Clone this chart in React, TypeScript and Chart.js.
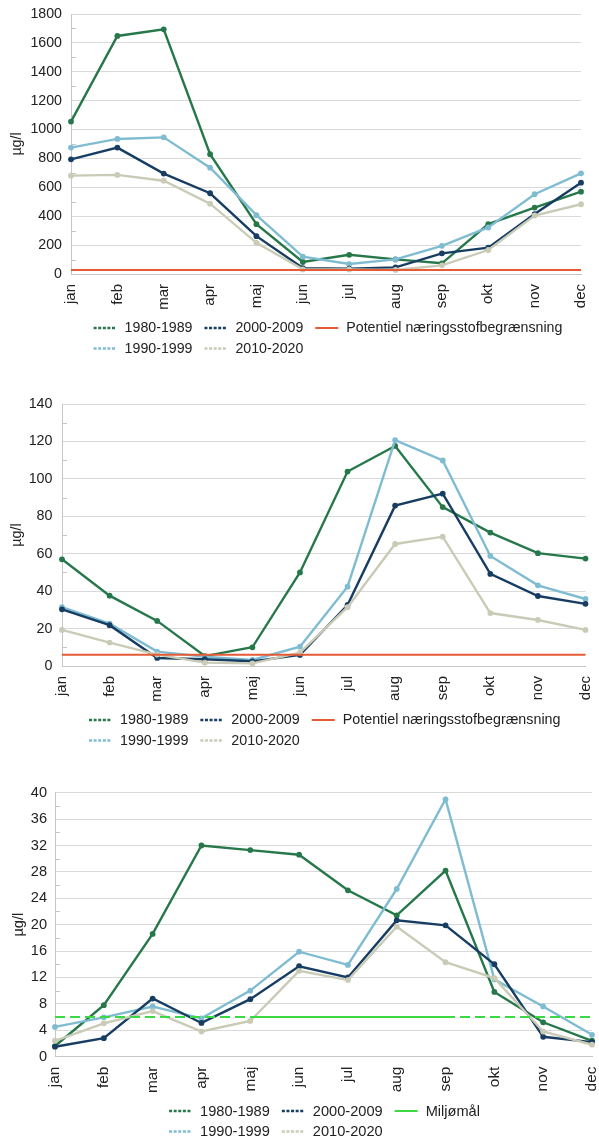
import React, { useEffect, useRef } from 'react';
import { Chart, registerables } from 'chart.js';

Chart.register(...registerables);

const FONT = '"Liberation Sans", Arial, Helvetica, sans-serif';
const TEXT = '#222222';
const GRID = '#d9d9d9';
const AXIS = '#c6c6c6';

const months = ['jan', 'feb', 'mar', 'apr', 'maj', 'jun', 'jul', 'aug', 'sep', 'okt', 'nov', 'dec'];
const periodLabels = ['1980-1989', '1990-1999', '2000-2009', '2010-2020'];
const periodColors = ['#26784a', '#7fbcd2', '#173d63', '#c9cbb6'];
const yTitle = 'µg/l';

// Chart 1
const c1_1980 = [1055, 1648, 1694, 829, 345, 83, 133, 101, 74, 345, 460, 570];
const c1_1990 = [875, 935, 946, 736, 407, 120, 69, 101, 195, 322, 552, 697];
const c1_2000 = [794, 875, 695, 559, 262, 41, 37, 46, 143, 182, 415, 632];
const c1_2010 = [681, 686, 646, 487, 216, 32, 32, 28, 60, 166, 405, 483];
const c1Limit = 28;
const c1LimitLabel = 'Potentiel næringsstofbegrænsning';

// Chart 2
const c2_1980 = [57, 37.6, 24.1, 5.3, 10, 50, 103.9, 117.6, 84.9, 71.3, 60.3, 57.4];
const c2_1990 = [31.4, 22.6, 7.7, 5, 3.2, 10.3, 42.4, 120.7, 109.8, 58.8, 43.1, 35.8];
const c2_2000 = [30.3, 21.8, 4.3, 3.6, 2.5, 5.9, 32.6, 85.7, 92.1, 49.2, 37.4, 33.2];
const c2_2010 = [19.3, 12.5, 6.1, 1.8, 1.4, 7.1, 31.4, 65.2, 69.1, 28.3, 24.6, 19.3];
const c2Limit = 6;
const c2LimitLabel = 'Potentiel næringsstofbegrænsning';

// Chart 3
const c3_1980 = [1.6, 7.8, 18.6, 32, 31.3, 30.6, 25.2, 21.4, 28.2, 9.8, 5.2, 2.4];
const c3_1990 = [4.5, 5.95, 7.6, 5.8, 10, 15.9, 13.9, 25.4, 39, 11.7, 7.6, 3.3];
const c3_2000 = [1.5, 2.8, 8.8, 5.1, 8.7, 13.7, 12, 20.65, 19.9, 14, 3, 2.2];
const c3_2010 = [2.4, 5.05, 6.9, 3.8, 5.4, 13, 11.6, 19.7, 14.3, 11.9, 3.8, 1.8];
const c3Target = 6;
const c3TargetMonths = ['maj', 'jun', 'jul', 'aug', 'sep'];
const c3TargetLabel = 'Miljømål';

const LIMIT_ORANGE = '#e45b35';
const TARGET_GREEN = '#3bd943';

type LegendItem = { text: string; color: string; kind: 'marker' | 'line' };

const legendPlugin = {
  id: 'customLegend',
  afterDraw(chart: any, _args: any, opts: any) {
    const ctx = chart.ctx as CanvasRenderingContext2D;
    const items: LegendItem[] = opts.items;
    ctx.save();
    ctx.font = `${opts.fontSize}px ${FONT}`;
    const cols: LegendItem[][] = [[items[0], items[1]], [items[2], items[3]], [items[4]]];
    const symW = 23;
    const symGap = 8;
    const colGap = 12;
    const widths = cols.map((col) =>
      Math.max(...col.map((it) => symW + symGap + ctx.measureText(it.text).width))
    );
    const total = widths.reduce((a, b) => a + b, 0) + colGap * (cols.length - 1);
    const ca = chart.chartArea;
    let x = (ca.left + ca.right) / 2 + opts.shift - total / 2;
    cols.forEach((col, ci) => {
      col.forEach((it, ri) => {
        const y = opts.rows[ri];
        ctx.strokeStyle = it.color;
        ctx.fillStyle = it.color;
        if (it.kind === 'line') {
          ctx.setLineDash([]);
          ctx.lineWidth = 2;
          ctx.beginPath();
          ctx.moveTo(x, y);
          ctx.lineTo(x + symW, y);
          ctx.stroke();
        } else {
          ctx.setLineDash([3, 1.6]);
          ctx.lineWidth = 2.6;
          ctx.beginPath();
          ctx.moveTo(x, y);
          ctx.lineTo(x + symW, y);
          ctx.stroke();
          ctx.setLineDash([]);
        }
        ctx.fillStyle = TEXT;
        ctx.textAlign = 'left';
        ctx.textBaseline = 'middle';
        ctx.fillText(it.text, x + symW + symGap, y + 0.5);
      });
      x += widths[ci] + colGap;
    });
    ctx.restore();
  },
};

const minorTickPlugin = {
  id: 'minorTicks',
  beforeDatasetsDraw(chart: any, _args: any, opts: any) {
    const ctx = chart.ctx as CanvasRenderingContext2D;
    const ys = chart.scales.y;
    const left = chart.chartArea.left;
    ctx.save();
    ctx.strokeStyle = AXIS;
    ctx.lineWidth = 1;
    for (let v = opts.step / 2; v < opts.max; v += opts.step) {
      const py = Math.round(ys.getPixelForValue(v)) + 0.5;
      ctx.beginPath();
      ctx.moveTo(left, py);
      ctx.lineTo(left + 5, py);
      ctx.stroke();
    }
    ctx.restore();
  },
};

type ChartCfg = {
  top: number;
  height: number;
  areaTop: number;
  areaBottom: number;
  yWidth: number;
  padRight: number;
  max: number;
  step: number;
  fontSize: number;
  xFontSize: number;
  yPad: number;
  titlePad: number;
  series: number[][];
  refLabel: string;
  refColor: string;
  refValue: number;
  refMonths: string[] | null;
  refDashedAll: boolean;
  legendRows: number[];
  legendShift: number;
};

function seriesDataset(label: string, data: number[], color: string, order: number) {
  return {
    label,
    data,
    borderColor: color,
    backgroundColor: color,
    borderWidth: 2.4,
    pointRadius: 2.9,
    pointBorderWidth: 0,
    pointBackgroundColor: color,
    pointBorderColor: color,
    tension: 0,
    clip: false as any,
    order,
  };
}

function buildConfig(cfg: ChartCfg): any {
  const datasets: any[] = cfg.series.map((d, i) =>
    seriesDataset(periodLabels[i], d, periodColors[i], 20 - i)
  );
  if (cfg.refDashedAll) {
    datasets.push({
      label: cfg.refLabel + ' (hele året)',
      data: months.map(() => cfg.refValue),
      borderColor: cfg.refColor,
      borderWidth: 2,
      borderDash: [10, 5],
      pointRadius: 0,
      tension: 0,
      clip: false,
      order: 2,
    });
  }
  datasets.push({
    label: cfg.refLabel,
    data: months.map((m) => (cfg.refMonths === null || cfg.refMonths.includes(m) ? cfg.refValue : null)),
    borderColor: cfg.refColor,
    borderWidth: 2,
    pointRadius: 0,
    tension: 0,
    spanGaps: false,
    clip: false,
    order: 1,
  });

  const legendItems: LegendItem[] = [
    { text: periodLabels[0], color: periodColors[0], kind: 'marker' },
    { text: periodLabels[1], color: periodColors[1], kind: 'marker' },
    { text: periodLabels[2], color: periodColors[2], kind: 'marker' },
    { text: periodLabels[3], color: periodColors[3], kind: 'marker' },
    { text: cfg.refLabel, color: cfg.refColor, kind: 'line' },
  ];

  const xHeight = cfg.height - cfg.areaBottom;
  const font = { family: FONT, size: cfg.fontSize };
  const xFont = { family: FONT, size: cfg.xFontSize };

  return {
    type: 'line',
    data: { labels: months, datasets },
    options: {
      responsive: false,
      animation: false,
      events: [],
      layout: { padding: { top: cfg.areaTop, right: cfg.padRight, left: 0, bottom: 0 } },
      plugins: {
        legend: { display: false },
        tooltip: { enabled: false },
        customLegend: {
          items: legendItems,
          rows: cfg.legendRows,
          shift: cfg.legendShift,
          fontSize: cfg.fontSize,
        },
        minorTicks: { step: cfg.step, max: cfg.max },
      },
      scales: {
        x: {
          type: 'category',
          offset: false,
          grid: { display: false, drawTicks: false },
          border: { display: true, color: AXIS, width: 1 },
          ticks: {
            autoSkip: false,
            minRotation: 90,
            maxRotation: 90,
            padding: 10,
            color: TEXT,
            font: xFont,
          },
          afterFit: (s: any) => {
            s.height = xHeight;
            s.paddingLeft = 0;
            s.paddingRight = 0;
          },
        },
        y: {
          min: 0,
          max: cfg.max,
          grid: { color: GRID, drawTicks: false, lineWidth: 1 },
          border: { display: true, color: AXIS, width: 1 },
          ticks: {
            stepSize: cfg.step,
            padding: cfg.yPad,
            color: TEXT,
            font,
            callback: (v: any) => String(v),
          },
          title: {
            display: true,
            text: yTitle,
            color: TEXT,
            font,
            padding: { top: cfg.titlePad, bottom: 0 },
          },
          afterFit: (s: any) => {
            s.width = cfg.yWidth;
            s.paddingTop = 0;
            s.paddingBottom = 0;
          },
        },
      },
    },
    plugins: [minorTickPlugin, legendPlugin],
  };
}

const chart1: ChartCfg = {
  top: 0,
  height: 370,
  areaTop: 14,
  areaBottom: 274,
  yWidth: 71,
  padRight: 18,
  max: 1800,
  step: 200,
  fontSize: 14.2,
  xFontSize: 15,
  yPad: 9,
  titlePad: 8.6,
  series: [c1_1980, c1_1990, c1_2000, c1_2010],
  refLabel: c1LimitLabel,
  refColor: LIMIT_ORANGE,
  refValue: c1Limit,
  refMonths: null,
  refDashedAll: false,
  legendRows: [328, 348.5],
  legendShift: 2,
};

const chart2: ChartCfg = {
  top: 370,
  height: 390,
  areaTop: 34,
  areaBottom: 296,
  yWidth: 62,
  padRight: 13.5,
  max: 140,
  step: 20,
  fontSize: 14.3,
  xFontSize: 15,
  yPad: 9.5,
  titlePad: 8.3,
  series: [c2_1980, c2_1990, c2_2000, c2_2010],
  refLabel: c2LimitLabel,
  refColor: LIMIT_ORANGE,
  refValue: c2Limit,
  refMonths: null,
  refDashedAll: false,
  legendRows: [350, 370.5],
  legendShift: 1,
};

const chart3: ChartCfg = {
  top: 760,
  height: 379,
  areaTop: 32.7,
  areaBottom: 296.6,
  yWidth: 55,
  padRight: 7,
  max: 40,
  step: 4,
  fontSize: 14.6,
  xFontSize: 15.4,
  yPad: 8,
  titlePad: 10,
  series: [c3_1980, c3_1990, c3_2000, c3_2010],
  refLabel: c3TargetLabel,
  refColor: TARGET_GREEN,
  refValue: c3Target,
  refMonths: c3TargetMonths,
  refDashedAll: true,
  legendRows: [351, 371.5],
  legendShift: 1,
};

function LineChart({ cfg }: { cfg: ChartCfg }) {
  const ref = useRef<HTMLCanvasElement | null>(null);
  useEffect(() => {
    if (!ref.current) return;
    const chart = new Chart(ref.current, buildConfig(cfg));
    return () => chart.destroy();
  }, [cfg]);
  return (
    <canvas
      ref={ref}
      width={599}
      height={cfg.height}
      style={{ position: 'absolute', left: 0, top: cfg.top, width: 599, height: cfg.height, display: 'block' }}
    />
  );
}

export default function App() {
  return (
    <div style={{ position: 'absolute', left: 0, top: 0, width: 599, height: 1139, background: '#ffffff', overflow: 'hidden' }}>
      <LineChart cfg={chart1} />
      <LineChart cfg={chart2} />
      <LineChart cfg={chart3} />
    </div>
  );
}
